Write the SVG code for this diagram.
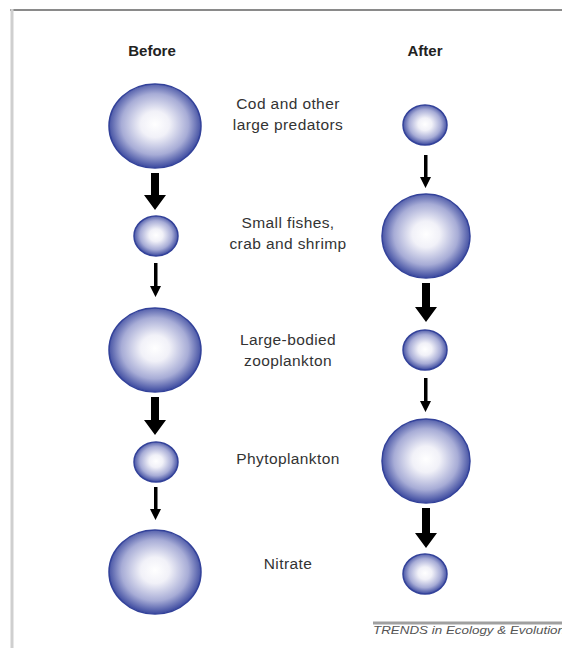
<svg xmlns="http://www.w3.org/2000/svg" width="562" height="648" viewBox="0 0 562 648">
<defs>
<radialGradient id="ball" cx="50%" cy="48%" r="52%">
<stop offset="0" stop-color="#ffffff"/>
<stop offset="0.3" stop-color="#f1f1f8"/>
<stop offset="0.7" stop-color="#a7acd6"/>
<stop offset="1" stop-color="#3a489e"/>
</radialGradient>
</defs>
<style>
.b{fill:url(#ball);stroke:#33429a;stroke-width:1.5}
.h{font-family:"Liberation Sans",Arial,sans-serif;font-weight:bold;font-size:15px;fill:#222;text-anchor:middle}
.l{font-family:"Liberation Sans",Arial,sans-serif;font-size:15.5px;fill:#333;text-anchor:middle;letter-spacing:0.4px}
.ar{fill:#000}
</style>
<rect width="562" height="648" fill="#fff"/>
<g id="frame">
<line x1="10" y1="10" x2="562" y2="10" stroke="#8a8a8a" stroke-width="2"/>
<line x1="12" y1="9" x2="12" y2="648" stroke="#cfcfcf" stroke-width="3"/>
</g>
<g id="headers">
<text class="h" x="152" y="56">Before</text>
<text class="h" x="425" y="56">After</text>
</g>
<g id="labels">
<text class="l" x="288" y="109">Cod and other</text>
<text class="l" x="288" y="130">large predators</text>
<text class="l" x="288" y="228">Small fishes,</text>
<text class="l" x="288" y="249">crab and shrimp</text>
<text class="l" x="288" y="345">Large-bodied</text>
<text class="l" x="288" y="366">zooplankton</text>
<text class="l" x="288" y="464">Phytoplankton</text>
<text class="l" x="288" y="569">Nitrate</text>
</g>
<g id="before-cod"><ellipse class="b" cx="155" cy="126" rx="46" ry="42"/></g>
<g id="before-small"><ellipse class="b" cx="156" cy="236" rx="22" ry="20"/></g>
<g id="before-zoo"><ellipse class="b" cx="155" cy="350" rx="46" ry="42"/></g>
<g id="before-phyto"><ellipse class="b" cx="156" cy="462" rx="22" ry="20"/></g>
<g id="before-nitrate"><ellipse class="b" cx="155" cy="572" rx="46" ry="42"/></g>
<g id="after-cod"><ellipse class="b" cx="425" cy="125" rx="22" ry="20"/></g>
<g id="after-small"><ellipse class="b" cx="426" cy="236" rx="44" ry="42"/></g>
<g id="after-zoo"><ellipse class="b" cx="425" cy="350" rx="22" ry="20"/></g>
<g id="after-phyto"><ellipse class="b" cx="426" cy="461" rx="44" ry="42"/></g>
<g id="after-nitrate"><ellipse class="b" cx="425" cy="574" rx="22" ry="20"/></g>
<g id="connectors">
<polygon class="ar" points="151,173 159,173 159,195 166,195 155,210 144,195 151,195"/>
<polygon class="ar" points="154,263 157.5,263 157.5,286 161,286 155.5,297 150,286 154,286"/>
<polygon class="ar" points="151,397 159,397 159,420 166,420 155,435 144,420 151,420"/>
<polygon class="ar" points="154,487 157.5,487 157.5,509 161,509 155.5,520 150,509 154,509"/>
<polygon class="ar" points="424,155 427.5,155 427.5,177 431,177 425.5,188 420,177 424,177"/>
<polygon class="ar" points="422,283 430,283 430,307 437,307 426,322 415,307 422,307"/>
<polygon class="ar" points="424,378 427.5,378 427.5,401 431,401 425.5,412 420,401 424,401"/>
<polygon class="ar" points="422,508 430,508 430,533 437,533 426,548 415,533 422,533"/>
</g>
<g id="credit">
<line x1="373" y1="623" x2="562" y2="623" stroke="#a0a0a0" stroke-width="3"/>
<text x="373" y="634" font-family="'Liberation Sans',Arial,sans-serif" font-size="11.5" font-style="italic" fill="#555" textLength="192" lengthAdjust="spacingAndGlyphs">TRENDS in Ecology &amp; Evolution</text>
</g>
</svg>
